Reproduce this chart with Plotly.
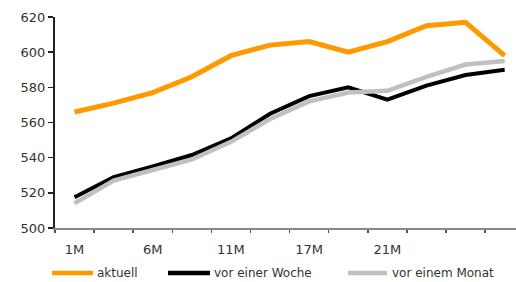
import plotly.graph_objects as go

# Data
categories = list(range(12))
tick_labels = ["1M", "", "6M", "", "11M", "", "17M", "", "21M", "", "", ""]
aktuell = [566, 571, 577, 586, 598, 604, 606, 600, 606, 615, 617, 598]
vor_einer_woche = [517.5, 529, 535, 541.5, 551, 565, 575, 580, 573, 581, 587, 590]
vor_einem_monat = [514, 527, 533, 539, 549, 562, 572, 577, 578, 586, 593, 595]
series_names = ["aktuell", "vor einer Woche", "vor einem Monat"]
series_colors = ["#FF9900", "#000000", "#C0C0C0"]
series_widths = [5, 4, 4.5]

W, H = 516, 282
L, R, T, B = 55, 0, 17, 54

fig = go.Figure()
for name, vals, col, lw in zip(series_names, [aktuell, vor_einer_woche, vor_einem_monat],
                               series_colors, series_widths):
    fig.add_trace(go.Scatter(x=categories, y=vals, mode="lines", name=name,
                             line=dict(color=col, width=lw), showlegend=False))

font = dict(family="DejaVu Sans", size=12, color="#333333")
tickfont = dict(family="DejaVu Sans", size=13, color="#333333")
tickvals = [i for i, t in enumerate(tick_labels) if t]
ticktext = [t for t in tick_labels if t]

fig.update_layout(
    width=W, height=H,
    margin=dict(l=L, r=R, t=T, b=B, autoexpand=False),
    paper_bgcolor="white", plot_bgcolor="white",
    font=font,
    xaxis=dict(range=[-0.5, 11.29], tickmode="array", tickvals=tickvals, ticktext=ticktext,
               showgrid=False, zeroline=False, showline=True, linecolor="#888888", linewidth=2,
               ticks="outside", ticklen=8, tickcolor="rgba(0,0,0,0)",
               minor=dict(tick0=-0.5, dtick=1, ticks="outside", ticklen=3, tickcolor="#555555",
                          tickwidth=1.5, showgrid=False),
               tickfont=tickfont, fixedrange=True),
    yaxis=dict(range=[500, 620], dtick=20, showgrid=False, zeroline=False,
               showline=True, linecolor="#222222", linewidth=2,
               ticks="outside", ticklen=5, tickcolor="#222222", tickwidth=1.5,
               tickfont=tickfont, fixedrange=True),
)

# Custom legend (long swatches)
plot_w = W - L - R
plot_h = H - T - B
def px_x(px):
    return (px - L) / plot_w
def px_y(py):
    return (H - B - py) / plot_h

legend_swatches = [(52, 93, 95), (168, 210, 212), (348, 387, 390)]
ly = px_y(273)
for (x0, x1, tx), name, col in zip(legend_swatches, series_names, series_colors):
    fig.add_shape(type="line", xref="paper", yref="paper", x0=px_x(x0), x1=px_x(x1),
                  y0=ly, y1=ly, line=dict(color=col, width=4.5))
    fig.add_annotation(xref="paper", yref="paper", x=px_x(tx), y=ly, text=name,
                       showarrow=False, xanchor="left", yanchor="middle", font=font)

fig.write_html("out.html", config={"displayModeBar": False, "staticPlot": True},
               post_script="document.body.style.margin='0';document.body.style.overflow='hidden';")
